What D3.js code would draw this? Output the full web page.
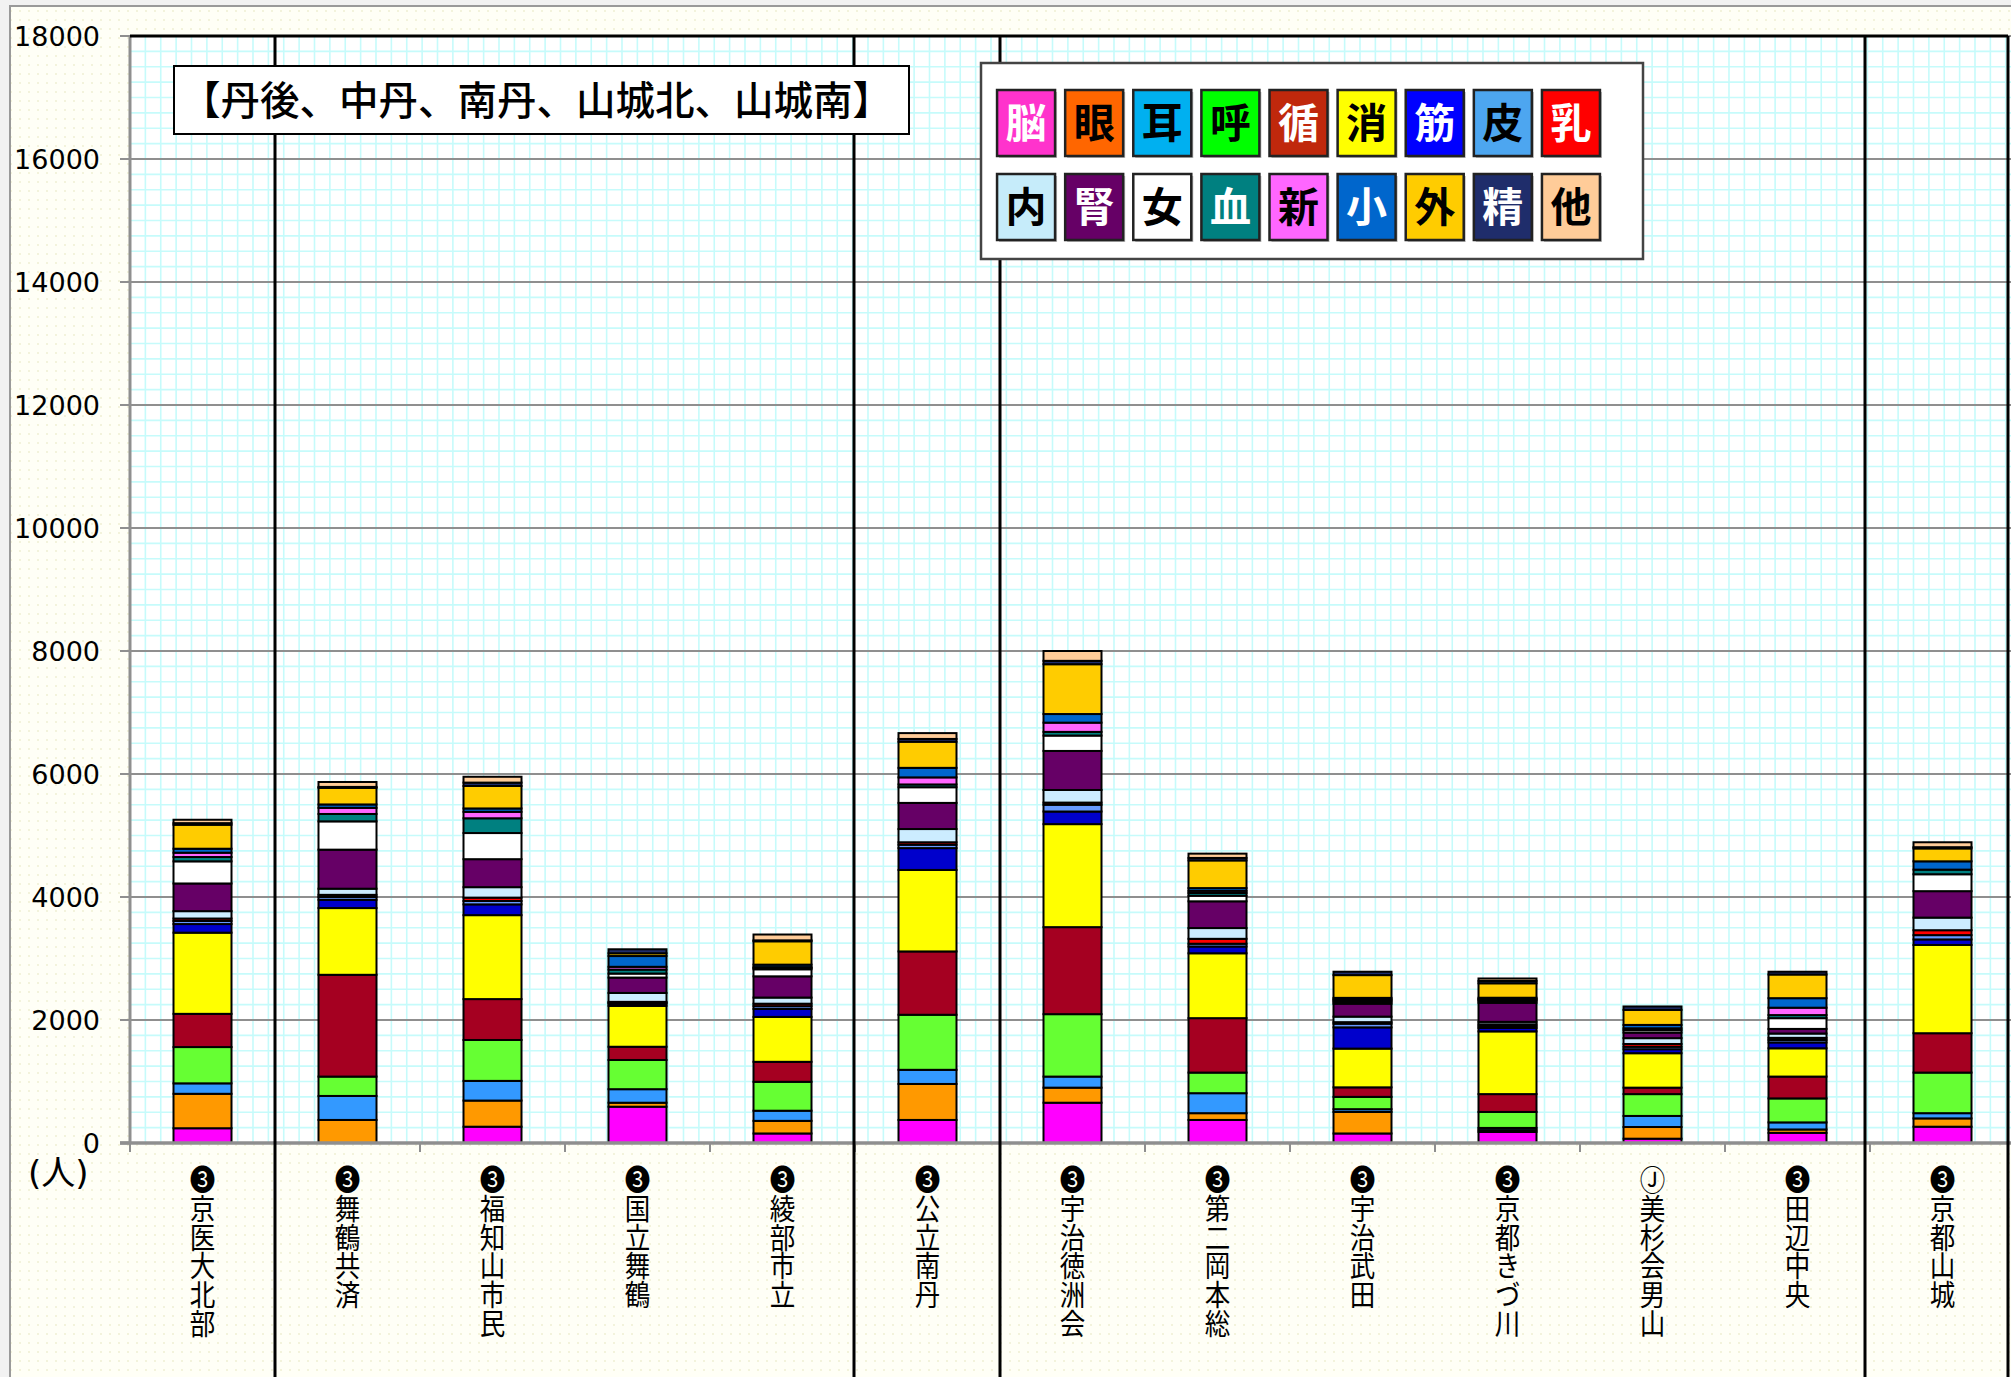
<!DOCTYPE html>
<html>
<head>
<meta charset="utf-8">
<script src="https://cdn.jsdelivr.net/npm/d3@7"></script>
<style>
  html, body { margin: 0; padding: 0; background: #f2f2f2; }
  svg { display: block; }
</style>
</head>
<body>
<svg id="chart" width="2011" height="1377"></svg>
<script>
// ---------- data ----------
const hospitals = ["❸京医大北部", "❸舞鶴共済", "❸福知山市民", "❸国立舞鶴", "❸綾部市立", "❸公立南丹",
  "❸宇治徳洲会", "❸第二岡本総", "❸宇治武田", "❸京都きづ川", "Ⓙ美杉会男山", "❸田辺中央", "❸京都山城"];
const diseases = ["脳", "眼", "耳", "呼", "循", "消", "筋", "皮", "乳", "内", "腎", "女", "血", "新", "小", "外", "精", "他"];

const brain     = [240,    0,  265, 590, 155,  375,  655,  375, 155,  180,  70, 165,  265];
const eye       = [560,  375,  425,  65, 205,  585,  245,  110, 350,   30, 190,  55,  135];
const ear       = [170,  390,  320, 220, 165,  230,  180,  325,  45,   35, 180, 115,   85];
const resp      = [590,  315,  665, 475, 470,  895, 1015,  335, 200,  260, 355, 390,  660];
const circ      = [540, 1655,  665, 215, 325, 1030, 1415,  885, 155,  290, 105, 355,  640];
const digest    = [1320,1085, 1365, 665, 730, 1325, 1675, 1055, 630, 1020, 560, 460, 1435];
const muscle    = [140,  135,  175,  35, 130,  355,  205,  110, 345,   55,  65,  95,   90];
const skin      = [50,    45,   55,  15,  45,   55,  110,   45,  60,   30,  40,  40,   70];
const breast    = [40,    35,   55,  15,  40,   40,   35,   80,  25,   30,  45,  35,   80];
const endo      = [120,  100,  170, 145, 100,  215,  205,  175,  90,   40,  95,  70,  205];
const kidney    = [450,  635,  455, 250, 345,  425,  635,  435, 210,  310,  90,  75,  430];
const female    = [360,  460,  425,  65, 115,  255,  250,   90,  30,   30,  40, 175,  275];
const blood     = [70,   120,  240,  65,  20,   45,   60,   45,  25,   20,  30,  50,   75];
const neonate   = [70,   100,  105,  45,  15,  115,  150,   35,  15,   12,   0, 120,    0];
const pediatric = [65,    55,   55, 175,  40,  155,  140,   45,  25,   20,  55, 155,  135];
const external  = [390,  270,  365,  45, 380,  425,  810,  450, 370,  235, 245, 385,  210];
const psych     = [26,    15,   55,  65,  15,   45,   55,   40,  55,   38,  55,  45,   20];
const other     = [55,    80,   95,   0,  95,   95,  160,   70,   0,   40,   0,   0,   80];
const seriesList = [brain, eye, ear, resp, circ, digest, muscle, skin, breast, endo, kidney,
  female, blood, neonate, pediatric, external, psych, other];

const barColors = ["#FF00FF", "#FF9900", "#3399FF", "#66FF33", "#A50021", "#FFFF00", "#0000CC", "#6699FF", "#FF0000",
  "#CCECFF", "#660066", "#FFFFFF", "#008080", "#FF66FF", "#0066CC", "#FFCC00", "#1F2D6B", "#FFCC99"];
const legendColors = ["#FF33CC", "#FF6600", "#00B0F0", "#00FF00", "#C0280C", "#FFFF00", "#0000FF", "#4DA6F0", "#FF0000",
  "#C6ECFA", "#660066", "#FFFFFF", "#008080", "#FF66FF", "#0066CC", "#FFCC00", "#1F2D6B", "#FFCC99"];
const legendTextColors = ["#fff", "#000", "#000", "#000", "#fff", "#000", "#fff", "#000", "#fff",
  "#000", "#fff", "#000", "#fff", "#000", "#fff", "#000", "#fff", "#000"];

const yTicks = [0, 2000, 4000, 6000, 8000, 10000, 12000, 14000, 16000, 18000];
const titleText = "【丹後、中丹、南丹、山城北、山城南】";
const unitText = "(人)";
const separatorAfter = [0, 4, 5, 11];
const separatorNudge = [0, -1, 0, -5];

// ---------- layout ----------
const W = 2011, H = 1377;
const plotLeft = 130, plotTop = 36, plotBottom = 1143, step = 145;
const plotRight = plotLeft + step * hospitals.length;
const frameRight = 2008;

const svg = d3.select("#chart");
const x = d3.scaleBand().domain(hospitals).range([plotLeft, plotRight]).padding(0);
const y = d3.scaleLinear().domain([0, 18000]).range([plotBottom, plotTop]);

const defs = svg.append("defs");
const dots = defs.append("pattern").attr("id", "dots").attr("width", 9).attr("height", 9)
  .attr("patternUnits", "userSpaceOnUse");
dots.append("rect").attr("width", 9).attr("height", 9).attr("fill", "#fffff6");
dots.append("circle").attr("cx", 2).attr("cy", 2).attr("r", 0.9).attr("fill", "#eeeed0");

// chart area
svg.append("rect").attr("x", 10).attr("y", 6).attr("width", W).attr("height", H)
  .attr("fill", "url(#dots)").attr("stroke", "#9a9a9a").attr("stroke-width", 2);

// plot background
svg.append("rect").attr("x", plotLeft).attr("y", plotTop)
  .attr("width", W - plotLeft).attr("height", plotBottom - plotTop).attr("fill", "#ffffff");

// minor grid
const minorStep = 250;
const minorPx = y(0) - y(minorStep);
const gMinor = svg.append("g").attr("stroke", "#c6fbfb").attr("stroke-width", 1.6);
gMinor.selectAll("line.h").data(d3.range(minorStep, 18000, minorStep)).join("line")
  .attr("x1", plotLeft).attr("x2", W).attr("y1", d => y(d)).attr("y2", d => y(d));
gMinor.selectAll("line.v").data(d3.range(plotLeft + minorPx, W, minorPx)).join("line")
  .attr("x1", d => d).attr("x2", d => d).attr("y1", plotTop).attr("y2", plotBottom);

// major grid
svg.append("g").selectAll("line").data(yTicks.filter(d => d > 0)).join("line")
  .attr("x1", plotLeft - 10).attr("x2", W).attr("y1", d => y(d)).attr("y2", d => y(d))
  .attr("stroke", "#8f8f8f").attr("stroke-width", 2.2);

// y axis
svg.append("line").attr("x1", plotLeft).attr("x2", plotLeft).attr("y1", plotTop).attr("y2", plotBottom)
  .attr("stroke", "#8f8f8f").attr("stroke-width", 3);
svg.append("g").selectAll("text").data(yTicks).join("text")
  .attr("x", 100).attr("y", d => y(d)).attr("dy", "0.36em")
  .attr("text-anchor", "end").attr("font-family", "'DejaVu Sans', sans-serif").attr("font-size", 27)
  .attr("fill", "#000").text(d => d);
svg.append("line").attr("x1", plotLeft - 10).attr("x2", plotLeft).attr("y1", y(0)).attr("y2", y(0))
  .attr("stroke", "#8f8f8f").attr("stroke-width", 3);
svg.append("text").attr("x", 28).attr("y", 1185)
  .attr("font-family", "'DejaVu Sans', 'Noto Sans CJK JP', sans-serif").attr("font-size", 34)
  .attr("fill", "#000").text(unitText);

// stacked bars
const rows = hospitals.map((h, i) => {
  const r = { hospital: h };
  diseases.forEach((d, j) => { r[d] = seriesList[j][i]; });
  return r;
});
const stacked = d3.stack().keys(diseases)(rows);
const barW = x.bandwidth() * 0.4;
const gBars = svg.append("g");
gBars.selectAll("g").data(stacked).join("g")
  .attr("fill", (d, i) => barColors[i])
  .selectAll("rect").data(d => d).join("rect")
  .attr("x", d => x(d.data.hospital) + (x.bandwidth() - barW) / 2)
  .attr("width", barW)
  .attr("y", d => y(d[1]))
  .attr("height", d => y(d[0]) - y(d[1]))
  .attr("stroke", "#000").attr("stroke-width", 2);

// x axis
svg.append("line").attr("x1", plotLeft - 10).attr("x2", W).attr("y1", y(0)).attr("y2", y(0))
  .attr("stroke", "#8f8f8f").attr("stroke-width", 3.5);
svg.append("g").selectAll("line").data(d3.range(0, hospitals.length + 1)).join("line")
  .attr("x1", i => plotLeft + i * x.step()).attr("x2", i => plotLeft + i * x.step())
  .attr("y1", y(0)).attr("y2", y(0) + 9)
  .attr("stroke", "#8f8f8f").attr("stroke-width", 2);

// category labels (vertical)
svg.append("g").selectAll("text").data(hospitals).join("text")
  .attr("transform", d => `translate(${x(d) + x.bandwidth() / 2},1165) scale(0.88,1)`)
  .attr("x", 0).attr("y", 0)
  .style("writing-mode", "vertical-rl").style("text-orientation", "upright")
  .attr("font-family", "'Noto Sans CJK JP', sans-serif").attr("font-size", 29)
  .attr("fill", "#000").text(d => d);

// frame lines & separators
svg.append("line").attr("x1", plotLeft).attr("x2", frameRight).attr("y1", plotTop).attr("y2", plotTop)
  .attr("stroke", "#000").attr("stroke-width", 3);
svg.append("line").attr("x1", frameRight).attr("x2", frameRight).attr("y1", plotTop).attr("y2", H)
  .attr("stroke", "#000").attr("stroke-width", 3);
svg.append("g").selectAll("line").data(separatorAfter).join("line")
  .attr("x1", (d, k) => x(hospitals[d]) + x.step() + separatorNudge[k])
  .attr("x2", (d, k) => x(hospitals[d]) + x.step() + separatorNudge[k])
  .attr("y1", plotTop).attr("y2", H)
  .attr("stroke", "#000").attr("stroke-width", 3);

// title box
const tb = svg.append("g");
tb.append("rect").attr("x", 174).attr("y", 66).attr("width", 735).attr("height", 68)
  .attr("fill", "#fff").attr("stroke", "#000").attr("stroke-width", 2);
tb.append("text").attr("x", 181).attr("y", 101).attr("dy", "0.36em")
  .attr("font-family", "'Noto Sans CJK JP', sans-serif").attr("font-weight", 500)
  .attr("font-size", 39.5).attr("fill", "#000")
  .text(titleText);

// legend
const lg = svg.append("g");
lg.append("rect").attr("x", 981).attr("y", 63).attr("width", 662).attr("height", 196)
  .attr("fill", "#fff").attr("stroke", "#444").attr("stroke-width", 2.5);
const perRow = 9;
const lx = d3.scaleBand().domain(d3.range(perRow)).range([992, 1605]).padding(0);
const itemW = 58, itemH = 66;
const rowCenters = [123, 207];
const items = lg.selectAll("g.item").data(diseases).join("g").attr("class", "item")
  .attr("transform", (d, i) => `translate(${lx(i % perRow) + lx.bandwidth() / 2},${rowCenters[Math.floor(i / perRow)]})`);
items.append("rect").attr("x", -itemW / 2 + 2).attr("y", -itemH / 2 + 2).attr("width", itemW).attr("height", itemH)
  .attr("fill", "#777").attr("opacity", 0.5);
items.append("rect").attr("x", -itemW / 2).attr("y", -itemH / 2).attr("width", itemW).attr("height", itemH)
  .attr("fill", (d, i) => legendColors[i]).attr("stroke", "#222").attr("stroke-width", 2.5);
items.append("text").attr("x", 0).attr("y", 0).attr("dy", "0.36em").attr("text-anchor", "middle")
  .attr("font-family", "'Noto Sans CJK JP', sans-serif").attr("font-weight", 700).attr("font-size", 41)
  .attr("fill", (d, i) => legendTextColors[i]).text(d => d);
</script>
</body>
</html>
